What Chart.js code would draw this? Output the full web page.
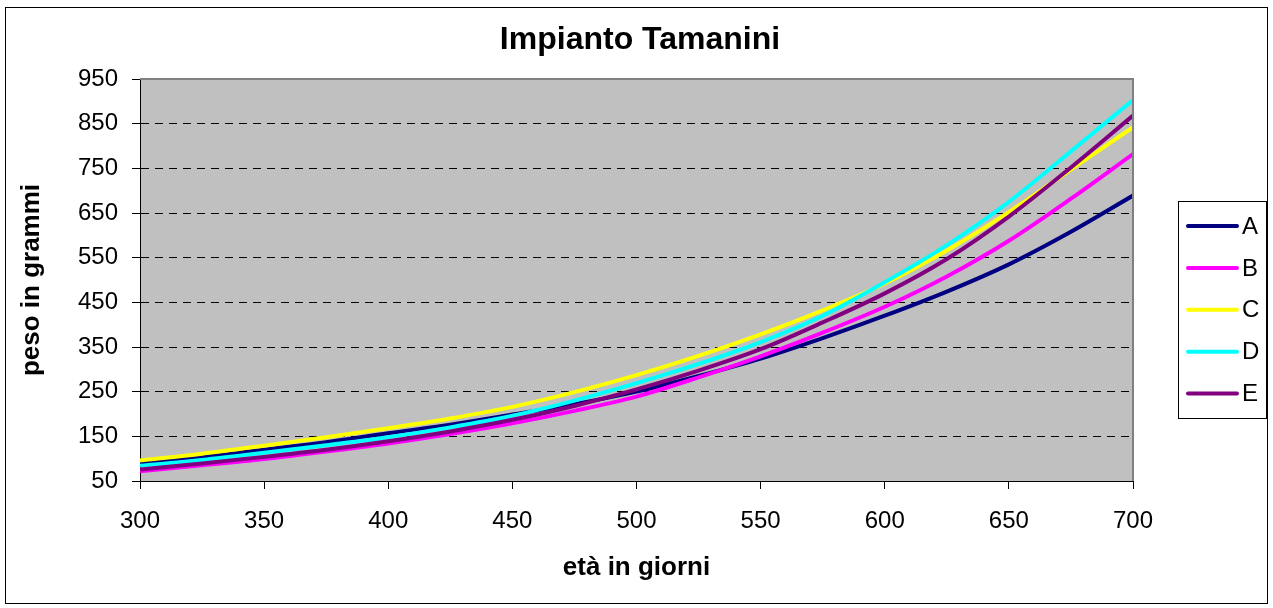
<!DOCTYPE html>
<html><head><meta charset="utf-8">
<script src="https://cdn.jsdelivr.net/npm/chart.js@4.4.1/dist/chart.umd.min.js"></script>
<style>html,body{margin:0;padding:0;background:#fff}#wrap{width:1273px;height:608px}</style>
</head><body><div id="wrap"><canvas id="c" width="1273" height="608"></canvas></div>
<script>
const days = [300,325,350,375,400,425,450,475,500,525,550,575,600,625,650,675,700];
const seriesNames = ['A','B','C','D','E'];
const valuesA = [90,103,120,137,157,176,199,222,250,285,324,370,420,474,535,608,689];
const valuesB = [72,85,99,116,134,155,179,207,239,282,329,382,440,508,588,682,782];
const valuesC = [96,111,129,148,168,190,216,249,287,330,378,432,492,566,652,747,842];
const valuesD = [84,97,113,130,148,170,196,230,269,312,361,420,495,578,675,788,903];
const valuesE = [76,89,104,120,139,161,187,218,255,297,345,405,470,547,642,752,868];
const colors = ['#000080','#FF00FF','#FFFF00','#00FFFF','#800080'];
const yTicks = [50,150,250,350,450,550,650,750,850,950];
const xTicks = [300,350,400,450,500,550,600,650,700];
const chartTitle = 'Impianto Tamanini';

const allValues = [valuesA,valuesB,valuesC,valuesD,valuesE];
const FONT = "'Liberation Sans', Arial, sans-serif";

const datasets = allValues.map((vals,i)=>({
  label: seriesNames[i],
  data: days.map((d,j)=>({x:d,y:vals[j]})),
  borderColor: colors[i],
  backgroundColor: colors[i],
  borderWidth: 4,
  pointRadius: 0,
  cubicInterpolationMode: 'monotone',
  fill: false,
  order: allValues.length - i
}));

const frame = {
  id:'frame',
  beforeDraw(chart){
    const {ctx, chartArea:a} = chart;
    ctx.save();
    ctx.fillStyle='#fff';
    ctx.fillRect(0,0,chart.width,chart.height);
    ctx.fillStyle='#C0C0C0';
    ctx.fillRect(a.left,a.top,a.right-a.left,a.bottom-a.top);
    ctx.restore();
  },
  afterDraw(chart){
    const {ctx, chartArea:a} = chart;
    ctx.save();
    ctx.strokeStyle='#808080';
    ctx.lineWidth=2;
    ctx.setLineDash([]);
    ctx.beginPath();
    ctx.moveTo(a.left,a.top);
    ctx.lineTo(a.right,a.top);
    ctx.lineTo(a.right,a.bottom);
    ctx.stroke();
    ctx.strokeStyle='#000';
    ctx.lineWidth=1;
    ctx.strokeRect(5.5,7.5,1262,596);
    // title
    ctx.fillStyle='#000';
    ctx.font='bold 32px '+FONT;
    ctx.textAlign='center';
    ctx.textBaseline='middle';
    ctx.fillText(chartTitle,640,40);
    // legend
    const lx=1178, ly=201, lw=88, lh=217;
    ctx.fillStyle='#fff';
    ctx.fillRect(lx,ly,lw,lh);
    ctx.strokeRect(lx+0.5,ly+0.5,lw,lh);
    chart.data.datasets.forEach((ds,i)=>{
      const y = 226 + i*41.9;
      ctx.strokeStyle=ds.borderColor;
      ctx.lineWidth=4;
      ctx.lineCap='round';
      ctx.beginPath();
      ctx.moveTo(1188,y);ctx.lineTo(1237,y);ctx.stroke();
      ctx.fillStyle='#000';
      ctx.font='24px '+FONT;
      ctx.textAlign='left';
      ctx.textBaseline='middle';
      ctx.fillText(ds.label,1242,y+1);
    });
    ctx.restore();
  }
};

new Chart(document.getElementById('c'),{
  type:'line',
  data:{datasets},
  options:{
    responsive:false,
    animation:false,
    devicePixelRatio:1,
    layout:{padding:{left:0,right:140,top:79,bottom:0}},
    plugins:{
      legend:{display:false},
      tooltip:{enabled:false},
      title:{display:false}
    },
    scales:{
      x:{type:'linear',min:300,max:700,
        afterBuildTicks(s){s.ticks=xTicks.map(v=>({value:v}));},
        afterFit(s){s.height=127;},
        grid:{display:true,drawOnChartArea:false,drawTicks:true,tickLength:8,tickColor:'#000'},
        border:{display:true,color:'#000',width:1},
        ticks:{color:'#000',font:{family:FONT,size:24},padding:18,maxRotation:0},
        title:{display:true,text:'età in giorni',color:'#000',font:{family:FONT,size:26,weight:'bold'},padding:{top:0,bottom:25}}
      },
      y:{type:'linear',min:50,max:950,
        afterBuildTicks(s){s.ticks=yTicks.map(v=>({value:v}));},
        afterFit(s){s.width=140;},
        grid:{display:true,drawTicks:true,tickLength:8,tickColor:'#000',
          color:(c)=>(c.tick && (c.tick.value===50||c.tick.value===950))?'rgba(0,0,0,0)':'#000',
          lineWidth:1},
        border:{display:true,color:'#000',width:1,dash:[8,6]},
        ticks:{color:'#000',font:{family:FONT,size:24},padding:14},
        title:{display:true,text:'peso in grammi',color:'#000',font:{family:FONT,size:26,weight:'bold'},padding:{top:16,bottom:0}}
      }
    }
  },
  plugins:[frame]
});
</script></body></html>
